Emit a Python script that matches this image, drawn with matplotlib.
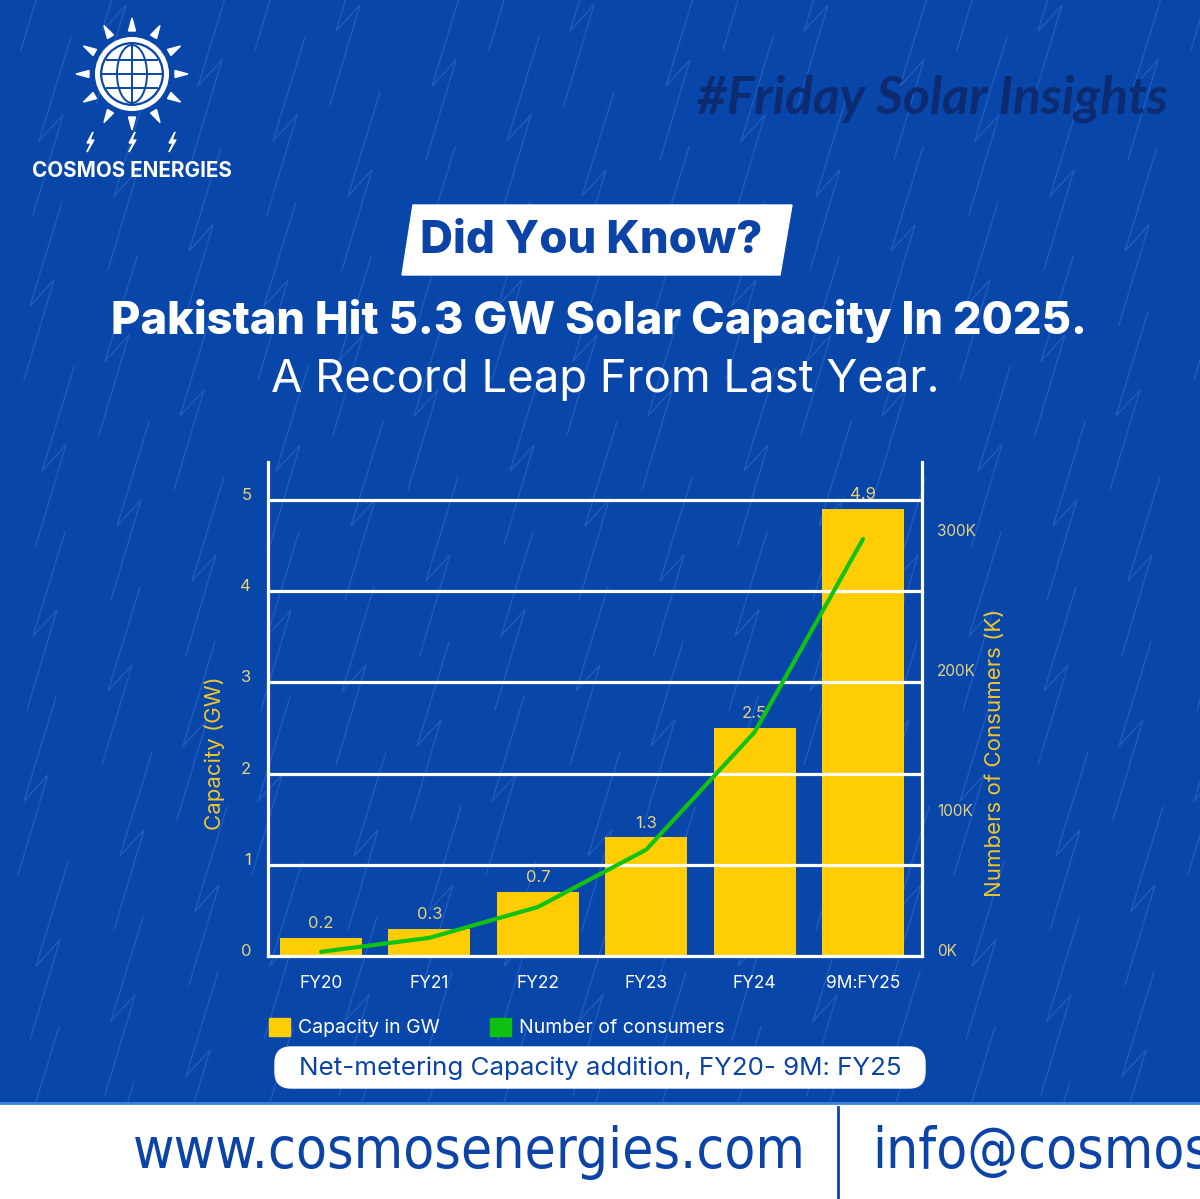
"""Net-metering capacity addition poster, FY20 - 9M:FY25."""
import matplotlib.pyplot as plt
import numpy as np
from matplotlib.patches import Circle, Ellipse, FancyBboxPatch, Patch, Polygon, Rectangle
from matplotlib.transforms import ScaledTranslation

W, H = 1200, 1199
BLUE = "#0846a9"
PATTERN = "#2d6ad0"
NAVY = "#0d2b70"
TEXT_BLUE = "#0b43a6"
YELLOW = "#FFCD03"
PALE = "#E8D27A"
LABEL_YEL = "#F0C62A"
GREEN = "#12C212"
SANS = ["Inter", "DejaVu Sans"]

years = ["FY20", "FY21", "FY22", "FY23", "FY24", "9M:FY25"]
capacity_gw = [0.2, 0.3, 0.7, 1.3, 2.5, 4.9]
consumers_k = [3, 13, 35, 76, 160, 298]
left_ticks = [0, 1, 2, 3, 4, 5]
right_ticks = [0, 100, 200, 300]
right_tick_labels = ["0K", "100K", "200K", "300K"]

plt.rcParams["font.family"] = SANS

fig = plt.figure(figsize=(W / 100, H / 100), dpi=100)
renderer = fig.canvas.get_renderer()


def fit_width(t, width_px):
    w = t.get_window_extent(renderer).width
    t.set_fontsize(t.get_fontsize() * width_px / w)
    return t


# ---- background layer in pixel coordinates ----
bg = fig.add_axes([0, 0, 1, 1])
bg.set_xlim(0, W)
bg.set_ylim(H, 0)
bg.axis("off")
bg.add_patch(Rectangle((0, 0), W, 1104, color=BLUE, zorder=0))

# zigzag texture
motif = np.array([(0, 0), (30, -100), (6, -74), (38, -178)])
for col, x0 in enumerate(range(-60, W + 60, 78)):
    for y0 in range(1150 + (col % 3) * 55, -100, -165):
        pts = motif + (x0 + (y0 % 7) * 3, y0)
        bg.plot(pts[:, 0], pts[:, 1], color=PATTERN, lw=1.0, alpha=0.6, zorder=1)
bg.add_patch(Rectangle((0, 1104), W, 95, color="white", zorder=2))
bg.plot([0, W], [1103, 1103], color="#3d84df", lw=2, zorder=3)
bg.plot([838, 838], [1107, H], color=TEXT_BLUE, lw=2, zorder=3)

# logo
cx, cy = 132, 74
bg.add_patch(Circle((cx, cy), 34.5, fill=False, ec="white", lw=3.6, zorder=4))
bg.add_patch(Circle((cx, cy), 29, color="white", zorder=4))
bg.add_patch(Ellipse((cx, cy), 30, 58, fill=False, ec=BLUE, lw=1.4, zorder=5))
bg.plot([cx, cx], [cy - 29, cy + 29], color=BLUE, lw=1.4, zorder=5)
for dy in (-14, 0, 14):
    hx = np.sqrt(29 ** 2 - dy ** 2)
    bg.plot([cx - hx, cx + hx], [cy + dy, cy + dy], color=BLUE, lw=1.4, zorder=5)
for k in range(12):
    a = np.deg2rad(90 - 30 * k)
    u = np.array([np.cos(a), -np.sin(a)])
    v = np.array([-u[1], u[0]])
    c = np.array([cx, cy])
    tri = [c + 43 * u + 3.5 * v, c + 43 * u - 3.5 * v, c + 56 * u]
    bg.add_patch(Polygon(tri, color="white", zorder=4))
bolt = np.array([(3, -10), (-3, 1), (1, 1), (-3, 10), (4, -2), (0, -2)])
for bx in (90, 132, 172):
    bg.add_patch(Polygon(bolt + (bx, 142), color="white", zorder=4))
fit_width(bg.text(132, 171, "COSMOS ENERGIES", color="white", weight="bold",
                  ha="center", va="center", fontsize=15, zorder=6), 200)

fit_width(bg.text(932, 99, "#Friday Solar Insights", color=NAVY, weight="bold",
                  style="italic", family=["Lato", "DejaVu Sans"], ha="center",
                  va="center", fontsize=30, zorder=6), 471)

# headline
bg.add_patch(Polygon([(413, 205), (792, 205), (780, 275), (402, 275)],
                     color="white", zorder=4))
fit_width(bg.text(591, 241, "Did You Know?", color=TEXT_BLUE, weight="heavy",
                  ha="center", va="center", fontsize=34, zorder=6), 342)
fit_width(bg.text(599, 321, "Pakistan Hit 5.3 GW Solar Capacity In 2025.",
                  color="white", weight="heavy", ha="center", va="center",
                  fontsize=30, zorder=6), 978)
fit_width(bg.text(605, 380, "A Record Leap From Last Year.", color="white",
                  ha="center", va="center", fontsize=30, zorder=6), 670)

# caption
bg.add_patch(FancyBboxPatch((275, 1047), 650, 41,
                            boxstyle="round,pad=0,rounding_size=16",
                            color="white", zorder=4))
fit_width(bg.text(600, 1068, "Net-metering Capacity addition, FY20- 9M: FY25",
                  color=TEXT_BLUE, ha="center", va="center", fontsize=18,
                  zorder=6), 603)

# footer
url = bg.text(133, 1153, "www.cosmosenergies.com", color=TEXT_BLUE,
              family="DejaVu Sans", stretch="condensed",
              ha="left", va="center", fontsize=44, zorder=6)
fit_width(url, 672)
bg.text(872, 1153, "info@cosmos", color=TEXT_BLUE, family="DejaVu Sans",
        stretch="condensed", ha="left", va="center",
        fontsize=url.get_fontsize(), zorder=6)

# ---- chart ----
ax = fig.add_axes([268 / W, 1 - 956 / H, 654 / W, 494 / H])
ax.patch.set_alpha(0)
x = np.arange(len(years))
ax.set_xlim(-0.489, 5.544)
ax.set_ylim(0, 5.417)
bars = ax.bar(x, capacity_gw, width=0.757, color=YELLOW, zorder=2)
for b, v in zip(bars, capacity_gw):
    ax.annotate(f"{v}", (b.get_x() + b.get_width() / 2, v), xytext=(0, 5),
                textcoords="offset points", ha="center", va="bottom",
                color=PALE, fontsize=12)
for t in left_ticks[1:]:
    ax.axhline(t, color="white", lw=2.3, zorder=3)

ax.set_xticks(x, years)
ax.set_yticks(left_ticks)
ax.tick_params(axis="both", length=0)
ax.tick_params(axis="x", colors="white", labelsize=12.5, pad=14)
ax.tick_params(axis="y", colors=PALE, labelsize=12, pad=12)
for lab in ax.get_yticklabels():
    lab.set_transform(lab.get_transform() + ScaledTranslation(0, 0.06, fig.dpi_scale_trans))
ax.set_ylabel("Capacity (GW)", color=LABEL_YEL, fontsize=16)
ax.yaxis.set_label_coords(-0.066, 0.411)
for side in ("top", "right"):
    ax.spines[side].set_visible(False)
for side in ("left", "bottom"):
    ax.spines[side].set_color("white")
    ax.spines[side].set_linewidth(2.3)

ax2 = ax.twinx()
ax2.set_ylim(0, 353)
ax2.plot(x, consumers_k, color=GREEN, lw=3, solid_capstyle="round", zorder=4)
ax2.set_yticks(right_ticks, right_tick_labels)
ax2.tick_params(axis="y", length=0, colors=PALE, labelsize=11, pad=11)
for lab in ax2.get_yticklabels():
    lab.set_transform(lab.get_transform() + ScaledTranslation(0, 0.06, fig.dpi_scale_trans))
ax2.set_ylabel("Numbers of Consumers (K)", color=LABEL_YEL, fontsize=16)
ax2.yaxis.set_label_coords(1.097, 0.411)
for side in ("top", "left", "bottom"):
    ax2.spines[side].set_visible(False)
ax2.spines["right"].set_color("white")
ax2.spines["right"].set_linewidth(2.3)

handles = [Patch(color=YELLOW, label="Capacity in GW"),
           Patch(color="#10C010", label="Number of consumers")]
fig.legend(handles=handles, loc="upper left", bbox_to_anchor=(251 / W, 1 - 1000 / H),
           ncol=2, frameon=False, fontsize=14, labelcolor="white",
           handlelength=1.1, handleheight=1.1, handletextpad=0.4,
           columnspacing=2.6)

fig.savefig("out.png", dpi=100, facecolor="white")
